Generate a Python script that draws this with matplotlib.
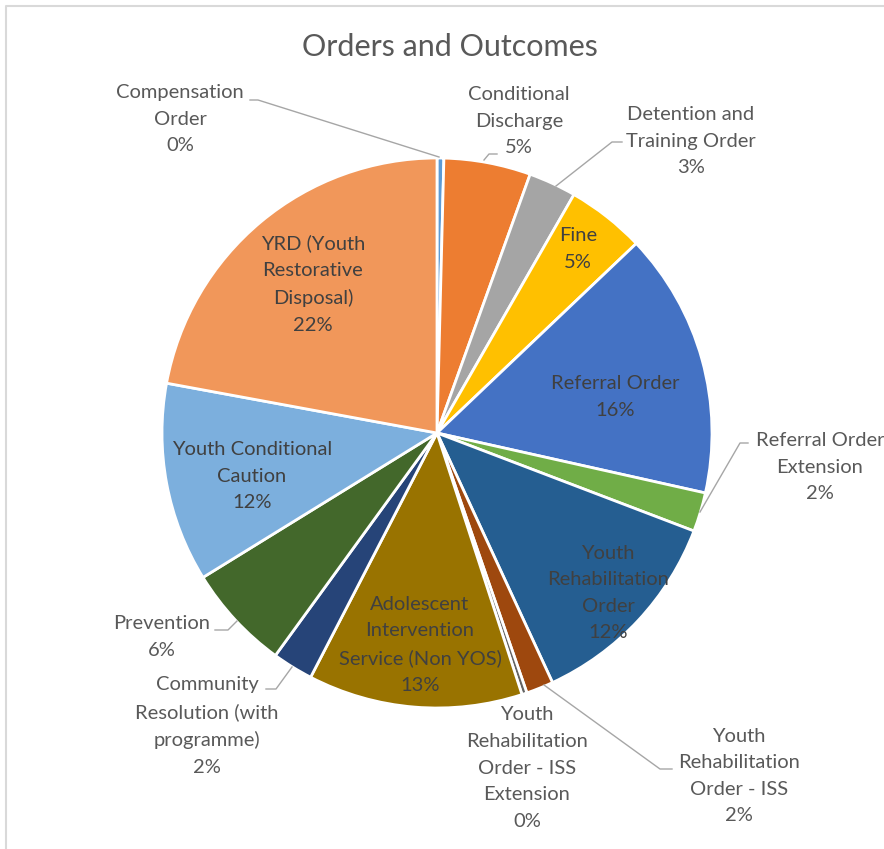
# Orders and Outcomes - pie chart
import matplotlib.pyplot as plt
from matplotlib.lines import Line2D

W, H = 884, 849

labels = ['Compensation\nOrder', 'Conditional\nDischarge', 'Detention and\nTraining Order',
          'Fine', 'Referral Order', 'Referral Order\nExtension',
          'Youth\nRehabilitation\nOrder', 'Youth\nRehabilitation\nOrder - ISS',
          'Youth\nRehabilitation\nOrder - ISS\nExtension',
          'Adolescent\nIntervention\nService (Non YOS)',
          'Community\nResolution (with\nprogramme)', 'Prevention',
          'Youth Conditional\nCaution', 'YRD (Youth\nRestorative\nDisposal)']
values = [0.4, 5.1, 2.8, 4.6, 15.6, 2.3, 12.3, 1.6, 0.3, 12.6, 2.4, 6.2, 11.7, 22.1]
colors = ['#5B9BD5', '#ED7D31', '#A5A5A5', '#FFC000', '#4472C4', '#70AD47',
          '#255E91', '#9E480E', '#636363', '#997300', '#264478', '#43682B',
          '#7CAFDD', '#F1975A']

# label centres in pixels (x, y from top)
lab_pos = [(180, 119), (519, 121), (691, 141), (578, 249), (615, 397), (820, 467),
           (608, 593), (739, 776), (527, 768), (420, 645), (207, 726), (162, 637),
           (252, 476), (313, 284)]
inside = [False, False, False, True, True, False, True, False, False, True,
          False, False, True, True]
leaders = {
    0: [(250, 100), (258, 100), (439, 157)],
    1: [(497, 154), (489, 154), (484, 160)],
    2: [(622, 142), (612, 142), (556, 186)],
    5: [(748, 443), (740, 443), (700, 512)],
    7: [(672, 769), (660, 769), (544, 685)],
    11: [(215, 630), (228, 630), (237, 621)],
    10: [(266, 689), (276, 689), (292, 667)],
}

FONT = ['Lato', 'DejaVu Sans']

fig = plt.figure(figsize=(W / 100, H / 100), dpi=100)
ax = fig.add_axes([0, 0, 1, 1])

# chart border (left and top only visible)
ax.add_line(Line2D([6, 6, W], [0, H - 6, H - 6], color='#D9D9D9', lw=1.5))

cx, cy, r = 437, H - 433, 275
ax.pie(values, colors=colors, startangle=90, counterclock=False,
       center=(cx, cy), radius=r, frame=True,
       wedgeprops=dict(edgecolor='white', linewidth=2))
ax.set_xlim(0, W)
ax.set_ylim(0, H)
ax.set_aspect('equal')
ax.axis('off')

total = sum(values)
for i, lab in enumerate(labels):
    pct = '%d%%' % round(values[i] / total * 100)
    x, y = lab_pos[i]
    col = '#404040' if inside[i] else '#595959'
    ax.text(x, H - y, lab + '\n' + pct, ha='center', va='center',
            fontsize=14.5, color=col, family=FONT, linespacing=1.68)

for k, pts in leaders.items():
    xs = [p[0] for p in pts]
    ys = [H - p[1] for p in pts]
    ax.add_line(Line2D(xs, ys, color='#A6A6A6', lw=1))

ax.text(450, H - 47, 'Orders and Outcomes', ha='center', va='center',
        fontsize=22, color='#595959', family=FONT)

fig.savefig('out.png', dpi=100)
